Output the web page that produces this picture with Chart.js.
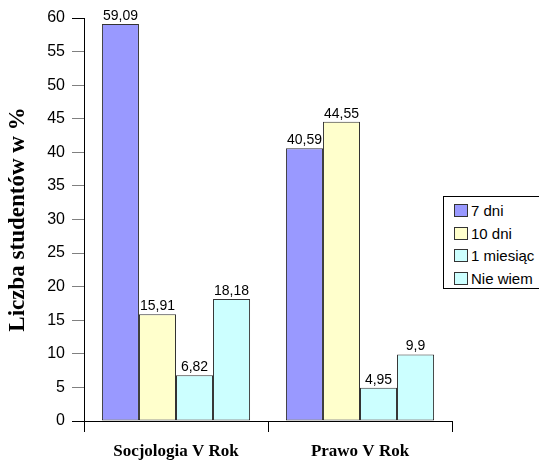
<!DOCTYPE html>
<html>
<head>
<meta charset="utf-8">
<script src="https://cdn.jsdelivr.net/npm/chart.js@4/dist/chart.umd.min.js"></script>
<style>
  html, body { margin: 0; padding: 0; background: #fff; overflow: hidden; }
  #wrap { position: relative; width: 539px; height: 467px; }
  #legend {
    position: absolute; left: 443px; top: 196px; width: 110px; height: 93px;
    border: 1px solid #000; background: #fff; box-sizing: border-box;
    font-family: "Liberation Sans", Arial, sans-serif; font-size: 15px; color: #000;
  }
  .item { position: absolute; left: 10px; height: 14px; line-height: 14px; white-space: nowrap; }
  .sw { display: inline-block; width: 14px; height: 13px; border: 1px solid #333; vertical-align: top; margin-right: 3px; box-sizing: border-box; }
</style>
</head>
<body>
<div id="wrap">
  <canvas id="chart" width="539" height="467"></canvas>
  <div id="legend"></div>
</div>
<script>
const categories = ['Socjologia V Rok', 'Prawo V Rok'];
const seriesNames = ['7 dni', '10 dni', '1 miesiąc', 'Nie wiem'];
const sevenDays = [59.09, 40.59];
const tenDays = [15.91, 44.55];
const oneMonth = [6.82, 4.95];
const dontKnow = [18.18, 9.9];
const yTicks = [0, 5, 10, 15, 20, 25, 30, 35, 40, 45, 50, 55, 60];

const colors = ['#9999ff', '#ffffcc', '#ccffff', '#ccffff'];
const seriesData = [sevenDays, tenDays, oneMonth, dontKnow];

const fmt = v => String(v).replace('.', ',');

// value labels above bars
const barLabels = {
  id: 'barLabels',
  afterDatasetsDraw(chart) {
    const c = chart.ctx;
    c.save();
    c.font = '14px "Liberation Sans", Arial, sans-serif';
    c.fillStyle = '#000';
    c.textAlign = 'center';
    c.textBaseline = 'bottom';
    chart.data.datasets.forEach((ds, i) => {
      chart.getDatasetMeta(i).data.forEach((bar, j) => {
        c.fillText(fmt(ds.data[j]), bar.x, bar.y - 1);
      });
    });
    c.restore();
  }
};

const chart = new Chart(document.getElementById('chart'), {
  type: 'bar',
  data: {
    labels: categories,
    datasets: seriesNames.map((name, i) => ({
      label: name,
      data: seriesData[i],
      backgroundColor: colors[i],
      borderColor: '#333',
      borderWidth: 1,
      borderSkipped: false,
      categoryPercentage: 0.805,
      barPercentage: 1
    }))
  },
  options: {
    responsive: false,
    animation: false,
    layout: { padding: { left: 0, right: 87, top: 18, bottom: 0 } },
    plugins: { legend: { display: false }, tooltip: { enabled: false } },
    scales: {
      x: {
        grid: { drawOnChartArea: false, tickLength: 11, color: '#000' },
        border: { color: '#000', width: 1 },
        ticks: {
          color: '#000', padding: 9,
          font: { family: '"Liberation Serif", "Times New Roman", serif', size: 17, weight: 'bold' }
        },
        afterFit: s => { s.height = 46; }
      },
      y: {
        min: 0, max: 60,
        afterBuildTicks: s => { s.ticks = yTicks.map(v => ({ value: v })); },
        grid: {
          drawOnChartArea: false, tickLength: 12,
          color: ctx => (ctx.tick && (ctx.tick.value === 0 || ctx.tick.value === 60)) ? '#000' : '#808080'
        },
        border: { color: '#000', width: 1 },
        ticks: {
          color: '#000', padding: 7,
          font: { family: '"Liberation Sans", Arial, sans-serif', size: 16 }
        },
        title: {
          display: true, text: 'Liczba studentów w %', color: '#000', padding: { top: 4, bottom: 0 },
          font: { family: '"Liberation Serif", "Times New Roman", serif', size: 23, weight: 'bold' }
        },
        afterFit: s => { s.width = 84; }
      }
    }
  },
  plugins: [barLabels]
});

// legend box built from the datasets
const legend = document.getElementById('legend');
chart.data.datasets.forEach((ds, i) => {
  const el = document.createElement('div');
  el.className = 'item';
  el.style.top = (7 + i * 22.6) + 'px';
  el.innerHTML = '<span class="sw" style="background:' + ds.backgroundColor + '"></span>' + ds.label;
  legend.appendChild(el);
});
</script>
</body>
</html>
